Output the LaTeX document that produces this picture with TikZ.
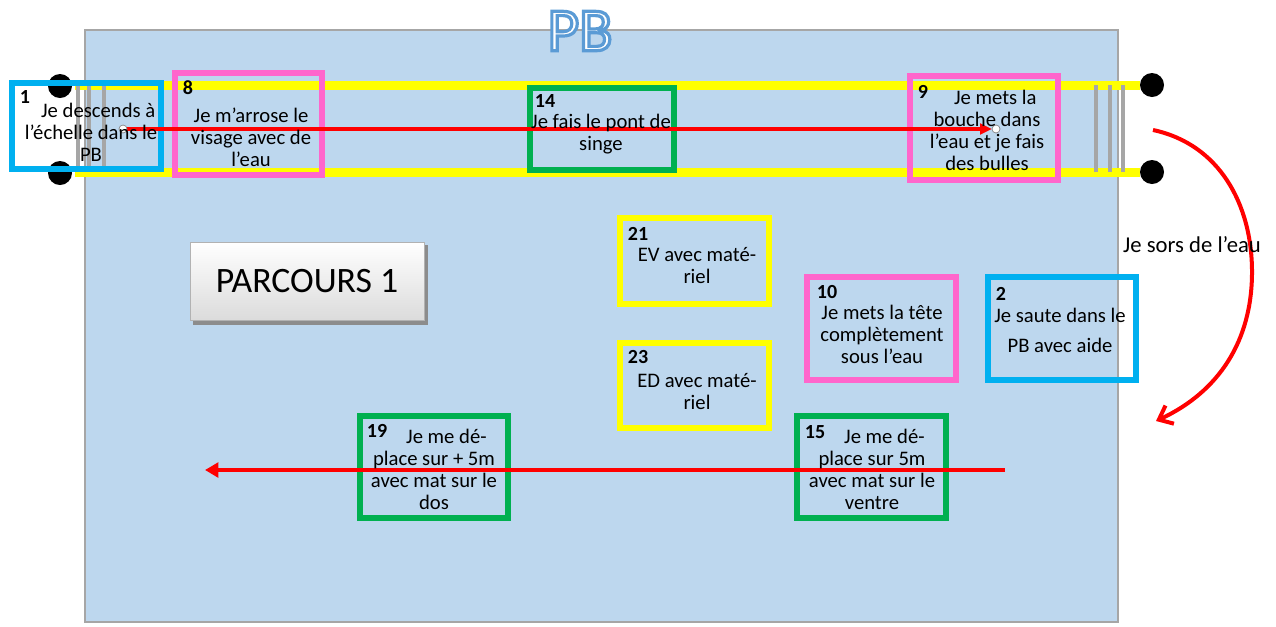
\documentclass[tikz,border=0pt]{standalone}
\usepackage{fontspec}
\setmainfont{Carlito}
\usetikzlibrary{arrows.meta}
\definecolor{pool}{HTML}{BDD7EE}
\definecolor{poolborder}{HTML}{A6A6A6}
\definecolor{cblue}{HTML}{00B0F0}
\definecolor{cpink}{HTML}{FF66CC}
\definecolor{cgreen}{HTML}{00B050}
\definecolor{cyellow}{HTML}{FFFF00}
\definecolor{ladgray}{HTML}{A6A6A6}
\definecolor{pbblue}{HTML}{5B9BD5}
\definecolor{btnshadow}{HTML}{8C8C8C}
\begin{document}
\begin{tikzpicture}[x=0.75pt,y=-0.75pt,
  frame/.style={line width=4.9pt},
  txt/.style={font=\fontsize{15.5}{16.5}\selectfont, align=center, inner sep=0pt},
  num/.style={font=\fontsize{15}{16}\selectfont\bfseries, inner sep=0pt},
  redline/.style={draw=red, line width=3.4pt},
  ladder/.style={draw=ladgray, line width=3.5pt},
  post/.style={fill=black, circle, inner sep=0pt, minimum size=18pt},
  whitedot/.style={fill=white, draw=gray, line width=0.5pt, circle, inner sep=0pt, minimum size=6pt},
  band/.style={fill=cyellow}
]
\useasboundingbox (0,0) rectangle (1276,626);
% pool
\draw[draw=poolborder, fill=pool, line width=1.3pt] (85,30) rectangle (1118,622);
% lanes
\fill[band] (75,81) rectangle (1140,90);
\fill[band] (75,168) rectangle (1140,177);
% ladders
\foreach \x in {78,89,104} \draw[ladder] (\x,85) -- (\x,172);
\foreach \x in {1096,1110,1123} \draw[ladder] (\x,85) -- (\x,172);
% posts
\node[post] (pl1) at (60,86) {};
\node[post] (pl2) at (60,173) {};
\node[post] (pr1) at (1152,85) {};
\node[post] (pr2) at (1152,172) {};
% title (outlined text)
\node[font=\fontsize{46}{50}\selectfont, text=white, inner sep=0pt] (title) at (580,31)
  {\special{pdf:code q 2 Tr 2.4 w 0.357 0.608 0.835 RG}PB\special{pdf:code Q}};
% button
\fill[btnshadow] (193,245) rectangle (428,325);
\node[draw=gray!60, line width=0.6pt, top color=white, bottom color=gray!28,
      minimum width=175.5pt, minimum height=58.5pt, inner sep=0pt,
      font=\fontsize{26.8}{29}\selectfont] (btn) at (307,281) {PARCOURS 1};
% frames
\draw[frame, cblue]  (12,83) rectangle (161,169);
\draw[frame, cpink]  (175,73) rectangle (322,175);
\draw[frame, cgreen] (530,88) rectangle (674,170);
\draw[frame, cpink]  (910,76) rectangle (1058,180);
\draw[frame, cyellow] (620,218) rectangle (769,304);
\draw[frame, cyellow] (620,343) rectangle (769,428);
\draw[frame, cpink]  (807,277) rectangle (956,380);
\draw[frame, cblue]  (988,277) rectangle (1136,380);
\draw[frame, cgreen] (360,416) rectangle (508,518);
\draw[frame, cgreen] (797,416) rectangle (946,518);
% arrows
\coordinate (a1) at (123,129);
\coordinate (a2) at (996,129);
\draw[redline, -{Triangle[length=9pt,width=8pt]}, shorten >=3pt] (a1) -- (a2);
\node[whitedot] (d1) at (a1) {};
\node[whitedot] (d2) at (a2) {};
\coordinate (b1) at (1005,470);
\coordinate (b2) at (205,470);
\draw[redline, -{Triangle[length=10pt,width=11pt]}] (b1) -- (b2);
\coordinate (c1) at (1153,130);
\coordinate (c2) at (1156,421);
\draw[draw=red, line width=3pt, -{Straight Barb[length=9pt,width=15pt]}]
  (c1) to[out=-12,in=90] (1252,272) to[out=-90,in=25] (c2);
\node[txt, font=\fontsize{17}{18}\selectfont] (lab) at (1192,245) {Je sors de l’eau};
% numbers
\node[num] (n1) at (25,97) {1};
\node[num] (n8) at (188,88) {8};
\node[num] (n14) at (545,101) {14};
\node[num] (n9) at (923,92) {9};
\node[num] (n21) at (638,234) {21};
\node[num] (n23) at (638,357) {23};
\node[num] (n10) at (827,292) {10};
\node[num] (n2) at (1001,294) {2};
\node[num] (n19) at (377,431) {19};
\node[num] (n15) at (815,432) {15};
% texts
\node[txt] (t1) at (91,132) {\hspace*{0.7em}Je descends à\\l’échelle dans le\\PB};
\node[txt] (t8) at (251,137) {Je m’arrose le\\visage avec de\\l’eau};
\node[txt] (t14) at (601,134) {Je fais le pont de\\singe};
\node[txt] (t9) at (987,130) {\hspace*{0.8em}Je mets la\\bouche dans\\l’eau et je fais\\des bulles};
\node[txt] (t21) at (697,266) {EV avec maté-\\riel};
\node[txt] (t23) at (697,391) {ED avec maté-\\riel};
\node[txt] (t10) at (882,334) {Je mets la tête\\complètement\\sous l’eau};
\node[txt] (t2) at (1060,330) {Je saute dans le\\[6pt]PB avec aide};
\node[txt] (t19) at (434,469) {\hspace*{1.2em}Je me dé-\\place sur + 5m\\avec mat sur le\\dos};
\node[txt] (t15) at (872,469) {\hspace*{1.2em}Je me dé-\\place sur 5m\\avec mat sur le\\ventre};
\end{tikzpicture}
\end{document}
